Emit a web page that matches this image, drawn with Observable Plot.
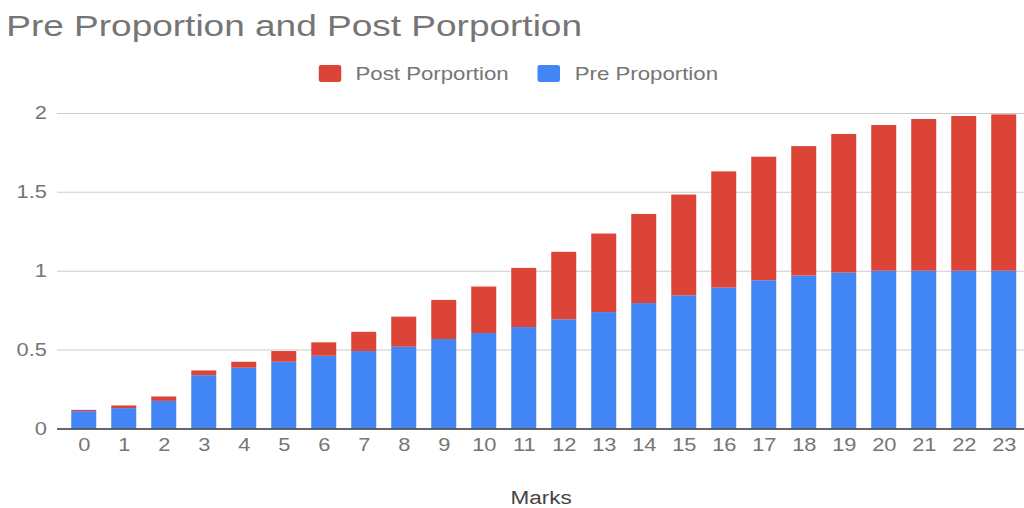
<!DOCTYPE html>
<html>
<head>
<meta charset="utf-8">
<script src="https://cdn.jsdelivr.net/npm/d3@7"></script>
<script src="https://cdn.jsdelivr.net/npm/@observablehq/plot@0.6"></script>
<style>
  html, body { margin: 0; padding: 0; background: #fff; overflow: hidden; }
  #outer { width: 1024px; height: 508px; overflow: hidden; position: relative; }
  #wrap { position: absolute; left: 0; top: 0; width: 819.2px; height: 508px; transform: scaleX(1.25); transform-origin: 0 0;
          font-family: "Liberation Sans", Arial, sans-serif; }
  #title { position: absolute; left: 5px; top: 11.2px; font-size: 29.6px; line-height: 29.6px; color: #757575; white-space: nowrap; }
  #legend { position: absolute; top: 64.5px; left: 254.6px; display: flex; align-items: center; font-size: 17.8px; line-height: 18px; color: #757575; white-space: nowrap; }
  .sw { width: 18px; height: 17px; border-radius: 2px; display: inline-block; margin-right: 11.8px; }
  .item { display: flex; align-items: center; margin-right: 23px; }
  #chart { position: absolute; left: 0; top: 0; }
</style>
</head>
<body>
<div id="outer">
<div id="wrap">
  <div id="chart"></div>
  <div id="title">Pre Proportion and Post Porportion</div>
  <div id="legend"></div>
</div>
</div>
<script>
const marks = ["0","1","2","3","4","5","6","7","8","9","10","11","12","13","14","15","16","17","18","19","20","21","22","23"];
const pre  = [0.110, 0.129, 0.175, 0.338, 0.385, 0.423, 0.461, 0.491, 0.518, 0.567, 0.605, 0.643, 0.692, 0.738, 0.795, 0.844, 0.893, 0.940, 0.969, 0.988, 1.000, 1.000, 1.000, 1.000];
const post = [0.008, 0.017, 0.028, 0.030, 0.038, 0.068, 0.085, 0.122, 0.191, 0.248, 0.295, 0.375, 0.428, 0.498, 0.565, 0.639, 0.737, 0.783, 0.821, 0.879, 0.924, 0.962, 0.981, 0.991];
const seriesNames = ["Pre Proportion", "Post Porportion"];
const seriesColors = ["#4285F4", "#DB4437"];
const yTicks = [0, 0.5, 1, 1.5, 2];
const legendOrder = ["Post Porportion", "Pre Proportion"];

const rows = [];
marks.forEach((m, i) => rows.push({mark: m, series: seriesNames[0], value: pre[i]}));
marks.forEach((m, i) => rows.push({mark: m, series: seriesNames[1], value: post[i]}));

const chart = Plot.plot({
  width: 819.2,
  height: 508,
  marginTop: 113,
  marginBottom: 79.5,
  marginLeft: 45.6,
  marginRight: 0,
  style: {fontFamily: "'Liberation Sans', Arial, sans-serif", fontSize: "17.5px", color: "#757575", background: "transparent", overflow: "visible"},
  x: {domain: marks, paddingInner: 0.375, paddingOuter: 0.2, insetLeft: 4.4, label: null},
  y: {domain: [0, 2], ticks: yTicks, label: null},
  color: {domain: seriesNames, range: seriesColors},
  marks: [
    Plot.ruleY(yTicks.filter(d => d > 0), {stroke: "#cccccc", strokeWidth: 1}),
    Plot.barY(rows, Plot.stackY({x: "mark", y: "value", fill: "series", order: null})),
    Plot.ruleY([0], {stroke: "#333333", strokeWidth: 1.5}),
    Plot.axisY({ticks: yTicks, tickSize: 0, tickPadding: 8.5, tickFormat: d => String(d), fill: "#757575", label: null}),
    Plot.axisX({tickSize: 0, tickPadding: 10, fill: "#757575", label: null}),
    Plot.text(["Marks"], {frameAnchor: "bottom", dy: 75, fill: "#444444", fontSize: 18})
  ]
});
document.getElementById("chart").appendChild(chart);

const legend = document.getElementById("legend");
legendOrder.forEach(name => {
  const item = document.createElement("div");
  item.className = "item";
  const sw = document.createElement("span");
  sw.className = "sw";
  sw.style.background = seriesColors[seriesNames.indexOf(name)];
  const t = document.createElement("span");
  t.textContent = name;
  item.appendChild(sw);
  item.appendChild(t);
  legend.appendChild(item);
});
</script>
</body>
</html>
